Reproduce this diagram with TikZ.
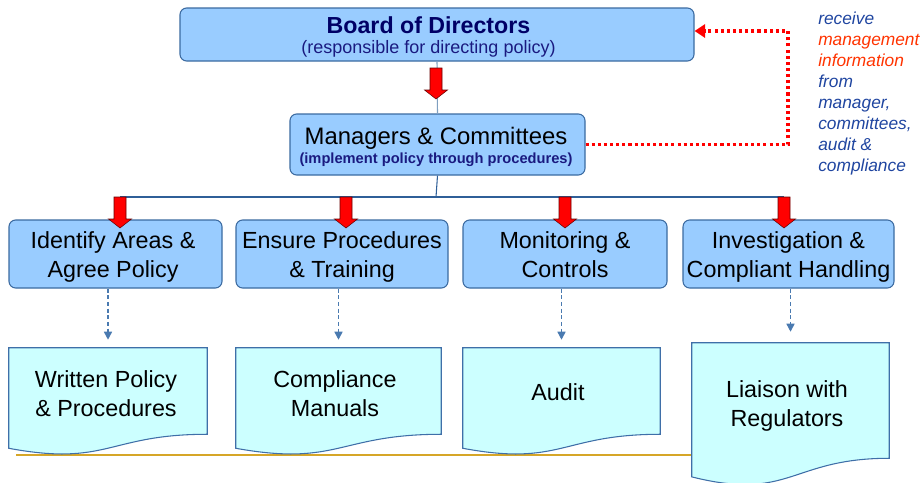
\documentclass[tikz,border=0pt]{standalone}
\usepackage{fontspec}
\setmainfont{Liberation Sans}
\usetikzlibrary{arrows.meta,calc}
\definecolor{boxfill}{RGB}{153,204,255}
\definecolor{boxline}{RGB}{59,106,160}
\definecolor{docfill}{RGB}{204,255,255}
\definecolor{docline}{RGB}{63,111,168}
\definecolor{busline}{RGB}{47,95,152}
\definecolor{lightline}{RGB}{127,159,192}
\definecolor{goldline}{RGB}{214,166,40}
\definecolor{navyA}{RGB}{0,0,102}
\definecolor{navyB}{RGB}{26,26,128}
\definecolor{noteblue}{RGB}{31,69,160}
\definecolor{notered}{RGB}{255,51,0}
\definecolor{dashblue}{RGB}{74,122,176}
\newcommand\sst{\rule[-5pt]{0pt}{18pt}}
\newcommand\fatarrow[4]{%
  \filldraw[fatarrow] ({#1-6},#2) -- ({#1+6},#2) -- ({#1+6},#3) -- ({#1+11.5},#3)
    -- (#1,#4) -- ({#1-11.5},#3) -- ({#1-6},#3) -- cycle;}
\newcommand\docshape[3]{%
  \filldraw[docshape] (#1.north west) -- (#1.north east) -- (#1.south east)
    .. controls (#1.south) and ($(#1.south)+(0,#2)$) .. ($(#1.south west)+(0,#3)$) -- cycle;}
\begin{document}
\begin{tikzpicture}[x=0.75pt,y=-0.75pt,
  topbox/.style={draw=boxline,fill=boxfill,rounded corners=5pt,line width=0.8pt,inner sep=0pt},
  midbox/.style={topbox,minimum height=51pt},
  txt/.style={inner sep=0pt,align=center},
  midtext/.style={txt,font=\fontsize{17.5}{21.75}\selectfont},
  docbox/.style={inner sep=0pt},
  docshape/.style={draw=docline,fill=docfill,line width=0.8pt},
  fatarrow/.style={fill=red,draw=red!40!black,line width=0.4pt},
  dasharrow/.style={draw=dashblue,line width=1.1pt,dash pattern=on 3pt off 2pt,
     -{Triangle[length=6pt,width=6pt]},shorten >=6pt},
  feedback/.style={draw=red,line width=2.3pt,dash pattern=on 2.3pt off 2.3pt,
     -{Triangle[length=8pt,width=10pt]}},
  note/.style={inner sep=0pt,align=left,anchor=north west,
     font=\fontsize{13}{15.75}\selectfont\itshape,text=noteblue}
]
\useasboundingbox (0,0) rectangle (923,482);

% gold base line (behind documents)
\coordinate (g1) at (16,455);
\coordinate (g2) at (700,455);
\draw[goldline,line width=1.6pt] (g1) -- (g2);

% top box
\node[topbox,minimum width=385.5pt,minimum height=39.75pt] (board) at (437,34.5) {};
\node[txt,font=\fontsize{13.5}{15}\selectfont,text=navyB] (boardtxt) at (428.5,36.3)
  {{\fontsize{17.4}{15}\selectfont\bfseries\color{navyA}\rule[-1.5pt]{0pt}{14.5pt}Board of Directors}\\\rule[-2.9pt]{0pt}{15.9pt}(responsible for directing policy)};

% managers box
\node[topbox,minimum width=221.25pt,minimum height=45.75pt] (mgr) at (437.5,144.5) {};
\node[txt,font=\fontsize{11}{14.25}\selectfont\bfseries,text=navyB] (mgrtxt) at (436,146.4)
  {{\fontsize{17.9}{14.25}\selectfont\mdseries\color{black}\rule[-3.9pt]{0pt}{17pt}Managers \& Committees}\\\rule[-2.4pt]{0pt}{10.4pt}(implement policy through procedures)};

% level 3 boxes
\node[midbox,minimum width=159.75pt] (l1) at (115.5,254) {};
\node[midbox,minimum width=159pt]    (l2) at (342,254)   {};
\node[midbox,minimum width=153pt]    (l3) at (565,254)   {};
\node[midbox,minimum width=158.25pt] (l4) at (788.5,254) {};
\node[midtext] (l1t) at (113,257.2) {\sst Identify Areas \&\\\sst Agree Policy};
\node[midtext] (l2t) at (342,257.2) {\sst Ensure Procedures\\\sst\& Training};
\node[midtext] (l3t) at (565,257.2) {\sst Monitoring \&\\\sst Controls};
\node[midtext] (l4t) at (788.5,257.2) {\sst Investigation \&\\\sst Compliant Handling};

% documents
\node[docbox,minimum width=148.5pt,minimum height=64.5pt]  (d1) at (108,391)   {};
\node[docbox,minimum width=153.75pt,minimum height=64.5pt] (d2) at (338.5,391) {};
\node[docbox,minimum width=147.75pt,minimum height=64.5pt] (d3) at (561.5,391) {};
\node[docbox,minimum width=147.75pt,minimum height=86.25pt](d4) at (790.5,400.5){};
\docshape{d1}{32.5}{14}
\docshape{d2}{32.5}{14}
\docshape{d3}{32.5}{14}
\docshape{d4}{43.4}{18.6}
\node[midtext] (d1t) at (106,396.2) {\sst Written Policy\\\sst\& Procedures};
\node[midtext] (d2t) at (335,396.2) {\sst Compliance\\\sst Manuals};
\node[midtext] (d3t) at (558,394.7) {\sst Audit};
\node[midtext] (d4t) at (787,406.2) {\sst Liaison with\\\sst Regulators};

% connectors board -> managers
\draw[lightline,line width=0.8pt] (board.south) -- (mgr.north);
\fatarrow{436}{68}{90}{99}

% tree bus
\coordinate (bus) at (436,197);
\coordinate (b1) at (120,197);
\coordinate (b4) at (784,197);
\draw[busline,line width=0.8pt] (mgr.south) -- (bus);
\draw[busline,line width=0.8pt] (b1) -- (b4);
\fatarrow{120}{197}{219}{228}
\fatarrow{346}{197}{219}{228}
\fatarrow{565}{197}{219}{228}
\fatarrow{784}{197}{219}{228}

% dashed arrows to documents
\draw[dasharrow] (d1.north |- l1.south) -- (d1.north);
\draw[dasharrow] (d2.north |- l2.south) -- (d2.north);
\draw[dasharrow] (d3.north |- l3.south) -- (d3.north);
\draw[dasharrow] (d4.north |- l4.south) -- ($(d4.north)+(0,-3)$);

% feedback
\coordinate (fbk) at (788,31);
\draw[feedback] (mgr.east) -| (fbk) -- (board.east |- fbk);

% note
\node[note] (nt) at (818,11.5) {receive\\\textcolor{notered}{management}\\\textcolor{notered}{information}\\from\\manager,\\committees,\\audit \&\\compliance};
\end{tikzpicture}
\end{document}
